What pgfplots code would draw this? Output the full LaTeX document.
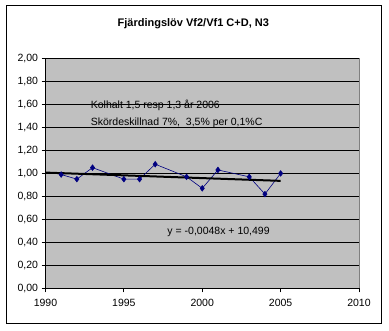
\documentclass[border=0pt]{standalone}
\usepackage{pgfplots}
\pgfplotsset{compat=1.18}
\usepackage{fontspec}
\setmainfont{Liberation Sans}
\definecolor{plotgray}{RGB}{192,192,192}
\definecolor{navyblue}{RGB}{0,0,128}
\definecolor{bordergray}{RGB}{128,128,128}
\begin{document}
\begin{tikzpicture}[x=1pt,y=1pt]
\path[use as bounding box] (0,0) rectangle (389,331);
\draw[black, line width=0.8pt] (6,8) rectangle (381,326);
\node[font=\fontsize{11}{13}\selectfont\bfseries, anchor=base] at (193.3,304.3) {Fjärdingslöv Vf2/Vf1 C+D, N3};
\begin{axis}[
  at={(45.5pt,42.7pt)}, anchor=south west, scale only axis,
  width=313.5pt, height=229.8pt,
  xmin=1990, xmax=2010, ymin=0, ymax=2,
  xtick={1990,1995,2000,2005,2010},
  ytick={0,0.2,0.4,0.6,0.8,1.0,1.2,1.4,1.6,1.8,2.0},
  axis lines*=left,
  axis line style={black, -, line width=0.8pt},
  axis background/.style={fill=plotgray},
  ymajorgrids,
  major grid style={black, line width=0.75pt},
  tick align=outside,
  major tick length=4pt,
  tick style={black, line width=0.75pt},
  /pgf/number format/assume math mode=true,
  ticklabel style={font=\fontsize{10.5}{12.6}\selectfont},
  yticklabel style={/pgf/number format/fixed, /pgf/number format/fixed zerofill, /pgf/number format/precision=2, /pgf/number format/use comma},
  xticklabel style={yshift=-3pt, /pgf/number format/1000 sep={}},
  clip=false,
]
\draw[bordergray, line width=0.75pt] (rel axis cs:1,0) -- (rel axis cs:1,1);
\addplot[navyblue, line width=0.6pt, mark=diamond*, mark size=2.8pt, mark options={fill=navyblue, draw=navyblue}] coordinates {
(1991,0.99)(1992,0.95)(1993,1.05)(1995,0.95)(1996,0.95)(1997,1.08)
(1999,0.97)(2000,0.87)(2001,1.03)(2003,0.97)(2004,0.82)(2005,1.00)};
\addplot[black, line width=2pt] coordinates {(1990,1.007)(2005,0.935)};
\node[anchor=base west, font=\fontsize{10.5}{12.6}\selectfont, inner sep=0pt] at (axis cs:1992.88,1.565) {Kolhalt 1,5 resp 1,3 år 2006};
\node[anchor=base west, font=\fontsize{10.5}{12.6}\selectfont, inner sep=0pt] at (axis cs:1992.88,1.42) {Skördeskillnad 7\%,\ \ 3,5\% per 0,1\%C};
\node[anchor=base west, font=\fontsize{10.5}{12.6}\selectfont, inner sep=0pt] at (axis cs:1997.77,0.472) {y = -0,0048x + 10,499};
\end{axis}
\end{tikzpicture}
\end{document}
